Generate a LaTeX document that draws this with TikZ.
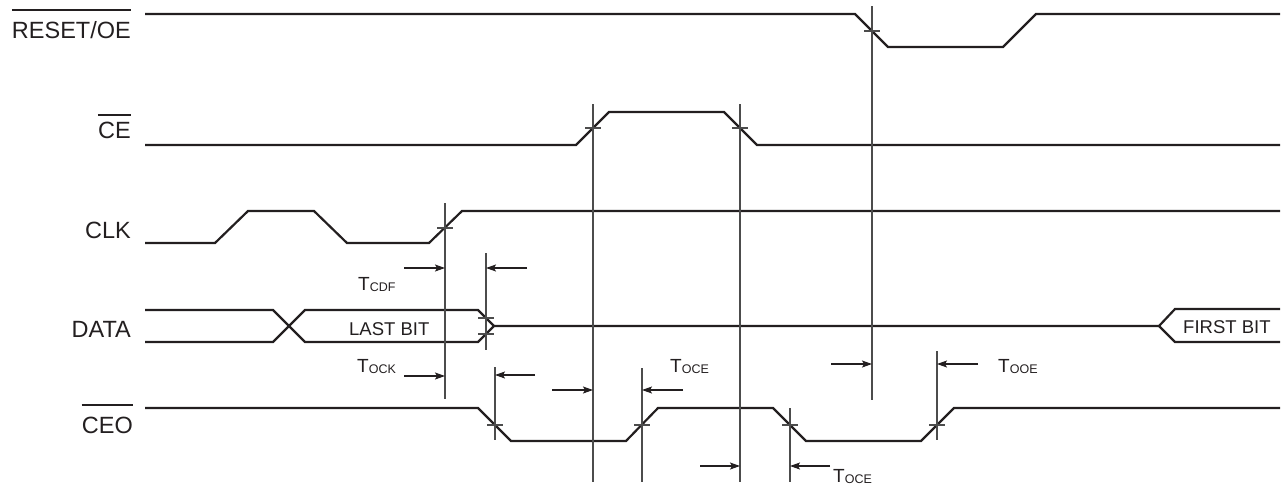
\documentclass[tikz,border=0pt]{standalone}
\usepackage{fontspec}
\setmainfont{Liberation Sans}
\usetikzlibrary{arrows.meta}
\definecolor{ink}{HTML}{231F20}
\newcommand\tsubs[2]{#1{\fontsize{12.5}{12.5}\selectfont\raisebox{-1pt}{#2}}}
\begin{document}
\begin{tikzpicture}[x=1pt,y=-1pt,
  sig/.style={line width=2.2pt, draw=ink, line join=miter},
  guide/.style={line width=1.1pt, draw=black!70},
  tickm/.style={line width=1.1pt, draw=black!70},
  tarrow/.style={line width=1.1pt, draw=ink, -{Stealth[length=10pt,width=7pt,inset=2pt]}},
  ovl/.style={line width=1.2pt, draw=ink},
  lbl/.style={font=\fontsize{23.5}{24}\selectfont, inner sep=0pt, anchor=base east, text=ink},
  bit/.style={font=\fontsize{18.5}{19}\selectfont, inner sep=0pt, anchor=base west, text=ink},
  tlbl/.style={font=\fontsize{19}{19}\selectfont, inner sep=0pt, anchor=base west, text=ink}]
\useasboundingbox (0,0) rectangle (1287,488);

% signal names
\node[lbl] (rst) at (131,38) {RESET/OE};
\draw[ovl] (rst.west |- 0,10) -- (rst.east |- 0,10);
\node[lbl] (ce) at (131,138) {CE};
\draw[ovl] (ce.west |- 0,115) -- (ce.east |- 0,115);
\node[lbl] (clk) at (131,238) {CLK};
\node[lbl] (data) at (131,337) {DATA};
\node[lbl] (ceo) at (133,433) {CEO};
\draw[ovl] (ceo.west |- 0,405) -- (ceo.east |- 0,405);

% waveforms
\draw[sig] (145,14) -- (855,14) -- (888,47) -- (1003,47) -- (1036,14) -- (1280,14);
\draw[sig] (145,145) -- (576,145) -- (609,112) -- (724,112) -- (757,145) -- (1280,145);
\draw[sig] (145,243) -- (215,243) -- (248,211) -- (314,211) -- (347,243) -- (429,243) -- (462,211) -- (1280,211);
\draw[sig] (145,310) -- (273,310) -- (305,342) -- (478,342) -- (494,326) -- (1159,326) -- (1175,309) -- (1280,309);
\draw[sig] (145,342) -- (273,342) -- (305,310) -- (478,310) -- (494,326);
\draw[sig] (1159,326) -- (1175,342) -- (1280,342);
\draw[sig] (145,408) -- (478,408) -- (511,441) -- (626,441) -- (658,408) -- (773,408) -- (806,441) -- (921,441) -- (954,408) -- (1280,408);

% guide lines
\draw[guide] (445,203) -- (445,399);
\draw[guide] (486,253) -- (486,350);
\draw[guide] (495,367) -- (495,440);
\draw[guide] (593,104) -- (593,482);
\draw[guide] (642,368) -- (642,482);
\draw[guide] (740,104) -- (740,482);
\draw[guide] (790,408) -- (790,482);
\draw[guide] (872,6) -- (872,400);
\draw[guide] (937,351) -- (937,440);

% crossing ticks
\draw[tickm] (437,228) -- (453,228);
\draw[tickm] (478,318) -- (494,318);
\draw[tickm] (478,334) -- (494,334);
\draw[tickm] (585,128) -- (601,128);
\draw[tickm] (732,128) -- (748,128);
\draw[tickm] (864,31) -- (880,31);
\draw[tickm] (487,425) -- (503,425);
\draw[tickm] (634,425) -- (650,425);
\draw[tickm] (782,425) -- (798,425);
\draw[tickm] (929,425) -- (945,425);

% timing arrows
\draw[tarrow] (404,268) -- (445,268);
\draw[tarrow] (527,268) -- (486,268);
\draw[tarrow] (404,376) -- (445,376);
\draw[tarrow] (535,375) -- (495,375);
\draw[tarrow] (552,390) -- (593,390);
\draw[tarrow] (683,390) -- (642,390);
\draw[tarrow] (831,364) -- (872,364);
\draw[tarrow] (978,364) -- (937,364);
\draw[tarrow] (700,466) -- (740,466);
\draw[tarrow] (830,466) -- (790,466);

% timing labels
\node[tlbl] (tcdf) at (358,290) {\tsubs{T}{CDF}};
\node[tlbl] (tock) at (357,372) {\tsubs{T}{OCK}};
\node[tlbl] (toce1) at (670,372) {\tsubs{T}{OCE}};
\node[tlbl] (tooe) at (998,372) {\tsubs{T}{OOE}};
\node[tlbl] (toce2) at (833,482) {\tsubs{T}{OCE}};
\node[bit] (last) at (349,335) {LAST BIT};
\node[bit] (first) at (1183,333) {FIRST BIT};
\end{tikzpicture}
\end{document}
